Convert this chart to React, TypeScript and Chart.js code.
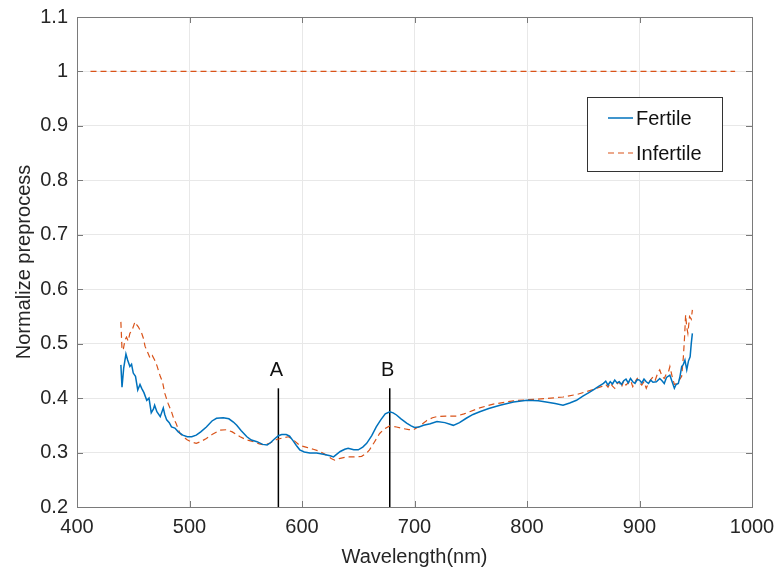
import { useEffect, useRef } from 'react';
import { Chart, registerables } from 'chart.js';

Chart.register(...registerables);

const fertileX = [439, 440, 441.5, 443.5, 445, 447, 448.5, 450, 452, 454, 456, 457.5, 459.5, 462, 464, 466, 468, 469, 471, 474, 476.7, 478, 479.7, 482, 484, 487, 490, 494, 498, 502, 506, 510, 515, 520, 524, 530, 535, 539, 542, 546, 551, 555, 560, 565, 569, 572, 575, 579, 582, 586, 589, 592, 595, 598, 602, 607, 613, 619, 625, 628, 631, 634, 638, 641, 646, 650, 654, 657.5, 662, 666, 670, 674, 678, 681, 684, 688, 693, 697, 700, 704, 708, 714, 720, 727, 734.5, 740, 746, 752, 758, 766, 776, 788, 800, 810, 817, 825, 832, 838, 844, 850, 855, 859, 864, 868, 870, 872, 874, 876, 878, 880, 882, 884, 886, 888, 890, 892, 894, 896, 898, 900, 902, 904, 906, 908, 910, 912, 915, 918, 920, 922, 924, 927, 929, 931, 932.5, 934.5, 936, 937.5, 939, 940.4, 942, 943.5, 945, 946, 947];
const fertileY = [0.461, 0.42, 0.455, 0.481, 0.47, 0.458, 0.462, 0.446, 0.44, 0.415, 0.425, 0.418, 0.41, 0.396, 0.4, 0.373, 0.38, 0.387, 0.375, 0.366, 0.382, 0.37, 0.36, 0.355, 0.347, 0.345, 0.338, 0.332, 0.329, 0.329, 0.332, 0.338, 0.347, 0.358, 0.363, 0.364, 0.362, 0.356, 0.35, 0.34, 0.329, 0.323, 0.32, 0.315, 0.314, 0.318, 0.324, 0.331, 0.333, 0.333, 0.33, 0.322, 0.313, 0.305, 0.301, 0.299, 0.299, 0.297, 0.294, 0.292, 0.297, 0.302, 0.306, 0.308, 0.305, 0.305, 0.31, 0.317, 0.331, 0.347, 0.36, 0.371, 0.375, 0.373, 0.369, 0.362, 0.354, 0.349, 0.346, 0.347, 0.35, 0.353, 0.357, 0.355, 0.35, 0.355, 0.363, 0.37, 0.375, 0.381, 0.387, 0.393, 0.396, 0.395, 0.393, 0.39, 0.387, 0.391, 0.396, 0.404, 0.41, 0.415, 0.422, 0.427, 0.431, 0.424, 0.43, 0.426, 0.433, 0.428, 0.43, 0.425, 0.432, 0.435, 0.428, 0.436, 0.43, 0.427, 0.434, 0.433, 0.428, 0.435, 0.43, 0.427, 0.433, 0.429, 0.43, 0.436, 0.432, 0.427, 0.438, 0.442, 0.43, 0.418, 0.425, 0.427, 0.44, 0.458, 0.462, 0.47, 0.452, 0.468, 0.476, 0.5, 0.519];

const infertileX = [439, 440, 441, 442.7, 444, 445.5, 447, 449, 451.5, 453, 454.5, 456, 457.5, 459, 460.5, 462, 465, 467, 469, 471, 474, 476, 478, 481, 484, 486, 488, 490, 491.5, 494, 497.5, 502, 506, 510, 515, 520, 527, 533, 538, 545, 551, 557, 562, 567, 572, 577.5, 583, 588, 593, 598, 605, 610, 616, 622, 626, 629, 633, 640, 646, 653, 657, 660, 664, 669, 673, 678, 684, 690, 695, 699, 704, 711, 716, 720, 728, 737.5, 744, 749, 758, 770, 788, 800, 815, 832, 845, 853, 862, 866, 870, 872, 874, 876, 878, 880, 882, 884, 886, 888, 890, 892, 894, 896, 898, 900, 902, 904, 906, 908, 910, 912, 914, 916, 918, 920, 922, 924, 926, 927, 929, 931, 933, 935, 937.5, 939, 940, 941, 942, 943, 944.5, 946, 947];
const infertileY = [0.54, 0.49, 0.488, 0.507, 0.512, 0.505, 0.519, 0.525, 0.54, 0.535, 0.531, 0.525, 0.519, 0.51, 0.495, 0.488, 0.473, 0.478, 0.47, 0.46, 0.44, 0.43, 0.409, 0.39, 0.375, 0.362, 0.354, 0.343, 0.335, 0.33, 0.324, 0.319, 0.317, 0.32, 0.326, 0.333, 0.341, 0.342, 0.338, 0.329, 0.323, 0.32, 0.316, 0.314, 0.318, 0.324, 0.327, 0.329, 0.322, 0.313, 0.309, 0.306, 0.302, 0.295, 0.289, 0.286, 0.289, 0.292, 0.292, 0.293, 0.298, 0.305, 0.318, 0.335, 0.343, 0.349, 0.347, 0.344, 0.342, 0.342, 0.348, 0.359, 0.364, 0.366, 0.367, 0.367, 0.371, 0.375, 0.382, 0.389, 0.395, 0.397, 0.399, 0.402, 0.407, 0.412, 0.418, 0.421, 0.425, 0.42, 0.428, 0.422, 0.418, 0.426, 0.43, 0.42, 0.432, 0.424, 0.428, 0.433, 0.421, 0.43, 0.436, 0.428, 0.424, 0.43, 0.418, 0.428, 0.434, 0.439, 0.433, 0.445, 0.452, 0.44, 0.436, 0.445, 0.45, 0.458, 0.44, 0.425, 0.427, 0.432, 0.44, 0.476, 0.51, 0.553, 0.53, 0.519, 0.55, 0.545, 0.562];

// Infertile series plateau at 1
const infertileTopX = [412, 985];
const infertileTopY = [1, 1];

const markerLabels = ['A', 'B'];
const markerX = [579, 678];
const markerBottom = 0.2;
const markerTop = 0.418;

const xTicks = [400, 500, 600, 700, 800, 900, 1000];
const yTicks = [0.2, 0.3, 0.4, 0.5, 0.6, 0.7, 0.8, 0.9, 1.0, 1.1];

const seriesNames = ['Fertile', 'Infertile'];
const BLUE = '#0072BD';
const ORANGE = '#D95319';
const FONT = "'Liberation Sans', Arial, Helvetica, sans-serif";
const TEXT = '#262626';

const pts = (xs: number[], ys: number[]) => xs.map((x, i) => ({ x, y: ys[i] }));

const framePlugin = {
  id: 'frame',
  afterDatasetsDraw(chart: any) {
    const { ctx, chartArea: a, scales } = chart;
    ctx.save();
    ctx.strokeStyle = '#7a7a7a';
    ctx.lineWidth = 1;
    ctx.strokeRect(Math.round(a.left) + 0.5, Math.round(a.top) + 0.5, Math.round(a.right - a.left), Math.round(a.bottom - a.top));
    const L = 6;
    ctx.beginPath();
    xTicks.forEach((v) => {
      const px = Math.round(scales.x.getPixelForValue(v)) + 0.5;
      ctx.moveTo(px, a.bottom); ctx.lineTo(px, a.bottom - L);
      ctx.moveTo(px, a.top); ctx.lineTo(px, a.top + L);
    });
    yTicks.forEach((v) => {
      const py = Math.round(scales.y.getPixelForValue(v)) + 0.5;
      ctx.moveTo(a.left, py); ctx.lineTo(a.left + L, py);
      ctx.moveTo(a.right, py); ctx.lineTo(a.right - L, py);
    });
    ctx.stroke();

    // marker labels
    ctx.fillStyle = '#111';
    ctx.font = `20px ${FONT}`;
    ctx.textAlign = 'center';
    ctx.textBaseline = 'bottom';
    markerLabels.forEach((lab, i) => {
      const px = scales.x.getPixelForValue(markerX[i]);
      const py = scales.y.getPixelForValue(markerTop);
      ctx.fillText(lab, px - 2, py - 8);
    });

    // legend
    const bx = a.right - 165, by = a.top + 80, bw = 135, bh = 74;
    ctx.fillStyle = '#fff';
    ctx.fillRect(bx, by, bw, bh);
    ctx.strokeStyle = '#333';
    ctx.strokeRect(Math.round(bx) + 0.5, Math.round(by) + 0.5, bw, bh);
    const colors = [BLUE, ORANGE];
    const dashes = [[], [6, 4]];
    ctx.font = `20px ${FONT}`;
    ctx.textAlign = 'left';
    ctx.textBaseline = 'middle';
    seriesNames.forEach((name, i) => {
      const y = by + 21 + i * 35;
      ctx.strokeStyle = colors[i];
      ctx.lineWidth = i === 0 ? 1.5 : 1.2;
      ctx.setLineDash(dashes[i]);
      ctx.beginPath();
      ctx.moveTo(bx + 21, y); ctx.lineTo(bx + 46, y);
      ctx.stroke();
      ctx.setLineDash([]);
      ctx.fillStyle = '#111';
      ctx.fillText(name, bx + 49, y + 1);
    });
    ctx.restore();
  },
};

export default function App() {
  const ref = useRef<HTMLCanvasElement | null>(null);
  useEffect(() => {
    if (!ref.current) return;
    const datasets: any[] = [
      { label: seriesNames[0], data: pts(fertileX, fertileY), borderColor: BLUE, borderWidth: 1.5, pointRadius: 0, fill: false, tension: 0 },
      { label: seriesNames[1], data: pts(infertileX, infertileY), borderColor: ORANGE, borderWidth: 1.2, borderDash: [6, 4], pointRadius: 0, fill: false, tension: 0 },
      { label: seriesNames[1] + ' top', data: pts(infertileTopX, infertileTopY), borderColor: ORANGE, borderWidth: 1.2, borderDash: [6, 4], pointRadius: 0, fill: false },
    ];
    markerX.forEach((mx, i) => {
      datasets.push({ label: markerLabels[i], data: [{ x: mx, y: markerBottom }, { x: mx, y: markerTop }], borderColor: '#000', borderWidth: 1.5, pointRadius: 0, fill: false });
    });
    const chart = new Chart(ref.current, {
      type: 'line',
      data: { datasets },
      options: {
        animation: false,
        responsive: true,
        maintainAspectRatio: false,
        layout: { padding: { left: 0, right: 30, top: 17, bottom: 0 } },
        plugins: { legend: { display: false }, tooltip: { enabled: false } },
        scales: {
          x: {
            type: 'linear', min: 400, max: 1000,
            afterBuildTicks: (s: any) => { s.ticks = xTicks.map((v) => ({ value: v })); },
            afterFit: (s: any) => { s.height = 69; s.paddingLeft = 0; s.paddingRight = 0; },
            grid: { color: '#e8e8e8', drawTicks: false },
            border: { display: false },
            ticks: { color: TEXT, font: { family: FONT, size: 20 }, padding: 8, maxRotation: 0, callback: (v: any) => String(v) },
            title: { display: true, text: 'Wavelength(nm)', color: TEXT, font: { family: FONT, size: 20 }, padding: { top: 0, bottom: 7 } },
          },
          y: {
            type: 'linear', min: 0.2, max: 1.1,
            afterBuildTicks: (s: any) => { s.ticks = yTicks.map((v) => ({ value: v })); },
            afterFit: (s: any) => { s.width = 77; s.paddingTop = 0; s.paddingBottom = 0; },
            grid: { color: '#e8e8e8', drawTicks: false },
            border: { display: false },
            ticks: { color: TEXT, font: { family: FONT, size: 20 }, padding: 9, callback: (v: any) => String(Number(Number(v).toFixed(1))) },
            title: { display: true, text: 'Normalize preprocess', color: TEXT, font: { family: FONT, size: 20 }, padding: { top: 12, bottom: 0 } },
          },
        },
      },
      plugins: [framePlugin],
    });
    return () => chart.destroy();
  }, []);
  return (
    <div style={{ position: 'absolute', left: 0, top: 0, width: 782, height: 576, background: '#fff' }}>
      <canvas ref={ref} />
    </div>
  );
}
